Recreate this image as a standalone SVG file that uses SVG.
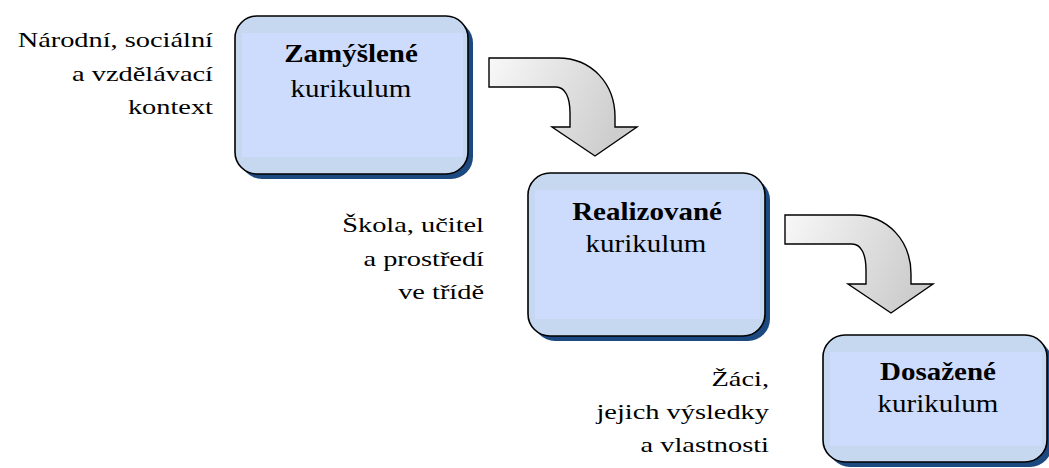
<svg xmlns="http://www.w3.org/2000/svg" width="1049" height="468" viewBox="0 0 1049 468">
<style>
text{font-family:'Liberation Serif','Times New Roman',serif;fill:#000}
.lbl{font-size:22px;text-anchor:end}
.bt{font-size:25px;text-anchor:middle}
.b{font-weight:bold}
.shadow{fill:#1f4a7f;filter:url(#blur)}
.outer{fill:#c6d8f0;stroke:none}
.inner{fill:#cddcfc}
.border{fill:none;stroke:#000;stroke-width:1.6}
.arrow{fill:url(#ag);stroke:#000;stroke-width:1.4;stroke-linejoin:miter}
</style>
<defs>
<linearGradient id="ag" x1="0" y1="0" x2="1" y2="0.3">
<stop offset="0" stop-color="#f8f8f8"/>
<stop offset="1" stop-color="#cdcdcd"/>
</linearGradient>
<filter id="blur" x="-10%" y="-10%" width="120%" height="120%"><feGaussianBlur stdDeviation="0.7"/></filter>
</defs>
<rect width="1049" height="468" fill="#fff"/>

<g id="connectors">
<path id="arrow1" class="arrow" d="M489,58 H558 C592,58 615,84 615,117 V127 H637 L595,156 L552,127 H570 V113 C570,97 565,87 556,87 H489 Z"/>
<path id="arrow2" class="arrow" transform="translate(296,157)" d="M489,58 H558 C592,58 615,84 615,117 V127 H637 L595,156 L552,127 H570 V113 C570,97 565,87 556,87 H489 Z"/>
</g>

<g id="node-zamyslene">
<rect class="shadow" x="240" y="21" width="233" height="158" rx="22"/>
<rect class="outer" x="235" y="16" width="233" height="158" rx="22"/>
<rect class="inner" x="242" y="33" width="221" height="124"/>
<rect class="border" x="235" y="16" width="233" height="158" rx="22"/>
<text class="bt b" transform="matrix(1.16 0 0 1 351 62)">Zamýšlené</text>
<text class="bt" transform="matrix(1.16 0 0 1 351 97)">kurikulum</text>
</g>

<g id="node-realizovane">
<rect class="shadow" x="533" y="178" width="237" height="163" rx="22"/>
<rect class="outer" x="528" y="173" width="237" height="163" rx="22"/>
<rect class="inner" x="535" y="190" width="225" height="129"/>
<rect class="border" x="528" y="173" width="237" height="163" rx="22"/>
<text class="bt b" transform="matrix(1.16 0 0 1 647 220)">Realizované</text>
<text class="bt" transform="matrix(1.16 0 0 1 646 252)">kurikulum</text>
</g>

<g id="node-dosazene">
<rect class="shadow" x="828" y="340" width="224" height="127" rx="22"/>
<rect class="outer" x="823" y="335" width="224" height="127" rx="22"/>
<rect class="inner" x="830" y="352" width="212" height="94"/>
<rect class="border" x="823" y="335" width="224" height="127" rx="22"/>
<text class="bt b" transform="matrix(1.16 0 0 1 938 380)">Dosažené</text>
<text class="bt" transform="matrix(1.16 0 0 1 938 412)">kurikulum</text>
</g>

<g id="label-kontext">
<text class="lbl" transform="matrix(1.29 0 0 1 213 47)">Národní, sociální</text>
<text class="lbl" transform="matrix(1.29 0 0 1 213 81)">a vzdělávací</text>
<text class="lbl" transform="matrix(1.29 0 0 1 213 114)">kontext</text>
</g>

<g id="label-skola">
<text class="lbl" transform="matrix(1.29 0 0 1 484 232)">Škola, učitel</text>
<text class="lbl" transform="matrix(1.29 0 0 1 484 266)">a prostředí</text>
<text class="lbl" transform="matrix(1.29 0 0 1 484 299)">ve třídě</text>
</g>

<g id="label-zaci">
<text class="lbl" transform="matrix(1.29 0 0 1 769 386)">Žáci,</text>
<text class="lbl" transform="matrix(1.29 0 0 1 769 419)">jejich výsledky</text>
<text class="lbl" transform="matrix(1.29 0 0 1 769 452)">a vlastnosti</text>
</g>
</svg>
